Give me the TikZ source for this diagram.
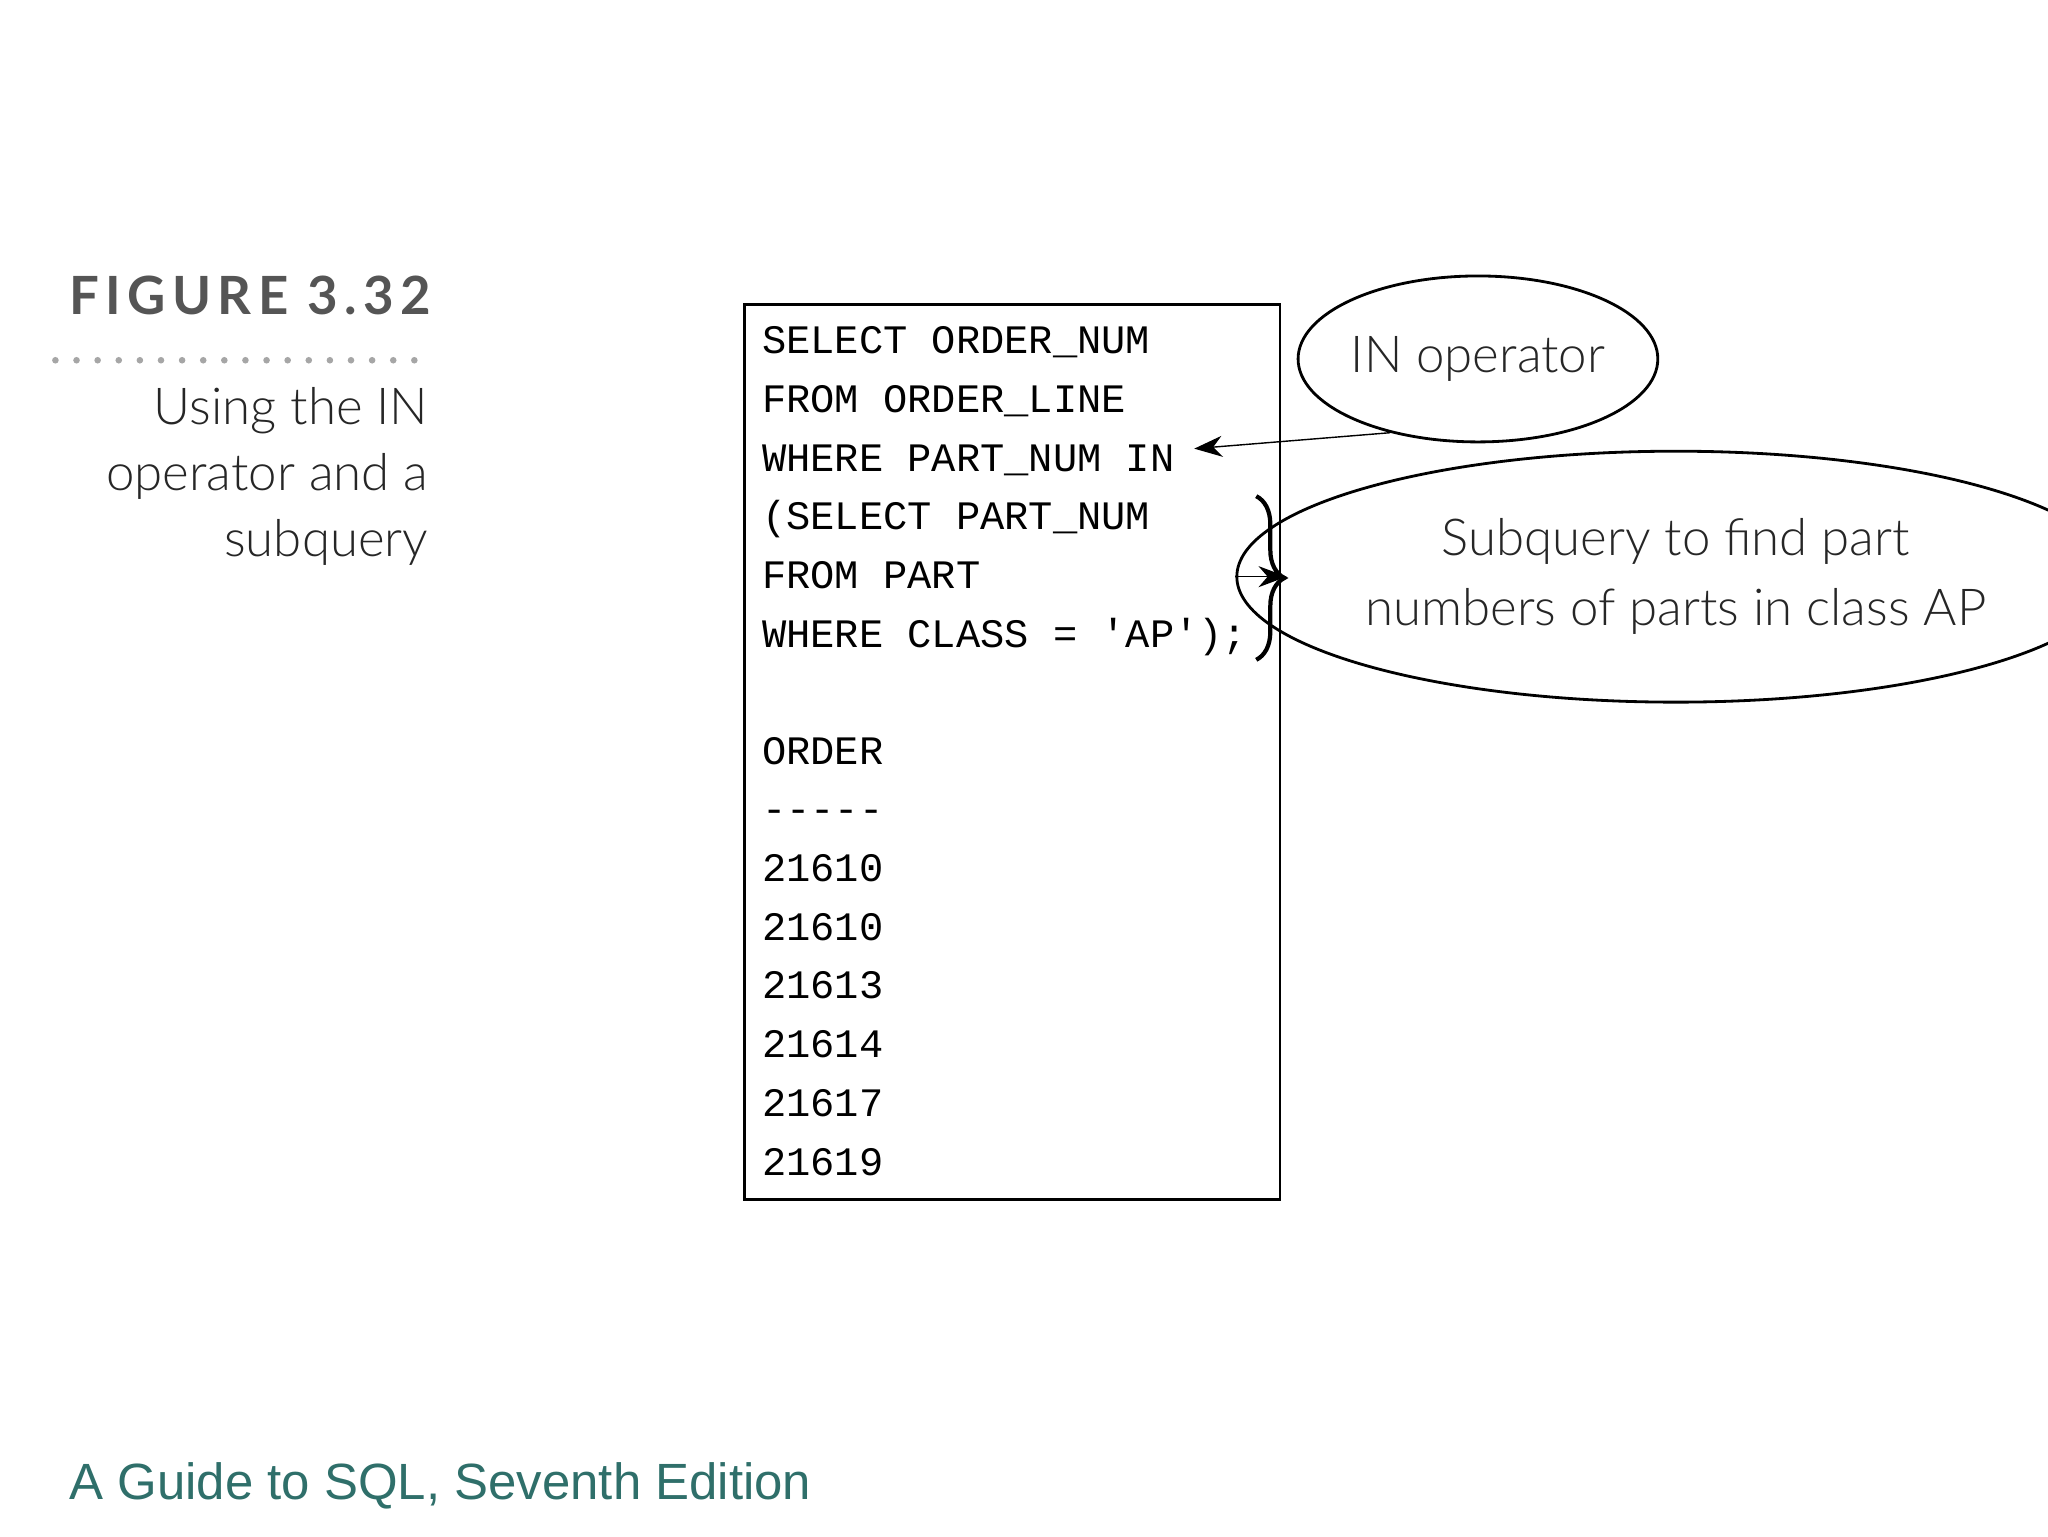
\documentclass[tikz,border=0pt]{standalone}
\usepackage{fontspec}
\setmainfont{Liberation Sans}
\newfontfamily\codefont{Liberation Mono}
\newfontfamily\handfont{Lato Light}
\newfontfamily\capfont[LetterSpace=12]{Lato}
\usetikzlibrary{shapes.geometric,decorations.pathreplacing,arrows.meta}
\definecolor{teal2}{HTML}{2F6F6A}
\definecolor{greyt}{HTML}{555555}
\tikzset{code/.style={anchor=base west,inner sep=0pt,font=\codefont\fontsize{11.5}{14}\selectfont},
 captxt/.style={anchor=base east,inner sep=0pt,font=\handfont\fontsize{14.5}{18}\selectfont,text=black!85},
 ell/.style={draw,ellipse,thick,inner sep=0pt},
 lbl/.style={font=\handfont\fontsize{14.5}{18}\selectfont,align=center,text=black!85}}
\begin{document}
\begin{tikzpicture}[x=0.0132cm,y=-0.0132cm]
\useasboundingbox (0,0) rectangle (1552,1164);
\node[anchor=base east,inner sep=0pt,font=\capfont\bfseries\fontsize{15}{18}\selectfont,text=greyt] (fig) at (327,238) {FIGURE 3.32};
\foreach \i in {0,...,17} \fill[gray!70] (42+\i*16,273) circle (2.5);
\node[captxt] (c1) at (325,322) {Using the IN};
\node[captxt] (c2) at (325,372) {operator and a};
\node[captxt] (c3) at (325,422) {subquery};
\draw[thick] (564,231) rectangle (970,909);
\foreach \t [count=\i from 0] in {{SELECT ORDER\_NUM},{FROM ORDER\_LINE},{WHERE PART\_NUM IN},{(SELECT PART\_NUM},{FROM PART},{WHERE CLASS = 'AP');}}
  \node[code] (l\i) at (577,268+\i*44.5) {\t};
\foreach \t [count=\i from 0] in {ORDER,-----,21610,21610,21613,21614,21617,21619}
  \node[code] (r\i) at (577,579+\i*44.5) {\t};
\node[ell,minimum width=3.17cm,minimum height=1.66cm,lbl] (e1) at (1120,272) {IN operator};
\node[ell,minimum width=6.78cm,minimum height=2.51cm,lbl] (e2) at (1270,437) {Subquery to find part\\[2pt]numbers of parts in class AP};
\coordinate (a1) at (905,340);
\draw[-{Stealth[length=8pt]}] (e1.220) -- (a1);
\draw[decorate,decoration={brace,amplitude=8pt},very thick] (952,376) -- (952,500);
\coordinate (b1) at (975,437);
\draw[-{Stealth[length=8pt]}] (e2.west) -- (b1);
\node[anchor=base west,inner sep=0pt,font=\fontsize{14.5}{18}\selectfont,text=teal2] (foot) at (52,1136) {A Guide to SQL, Seventh Edition};
\end{tikzpicture}
\end{document}
